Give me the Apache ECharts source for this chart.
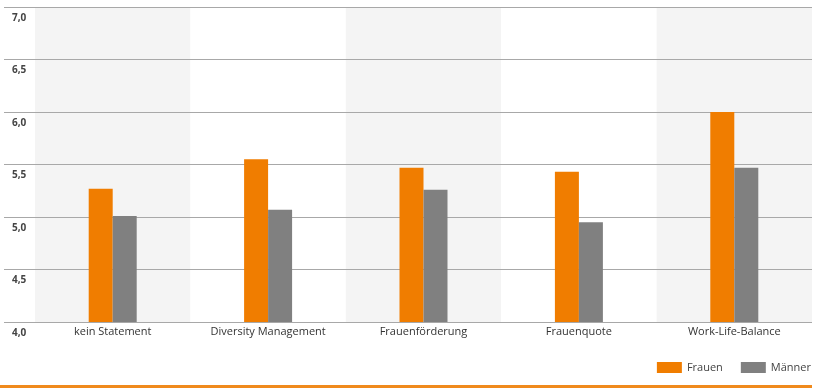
<!DOCTYPE html>
<html><head><meta charset="utf-8">
<script src="https://cdn.jsdelivr.net/npm/echarts@6/dist/echarts.min.js"></script>
<style>html,body{margin:0;padding:0;background:#fff}#c{width:820px;height:390px}</style>
</head><body><div id="c"></div>
<script>
const categories = ['kein Statement', 'Diversity Management', 'Frauenförderung', 'Frauenquote', 'Work-Life-Balance'];
const frauen = [5.27, 5.55, 5.47, 5.43, 6.0];
const maenner = [5.01, 5.07, 5.26, 4.95, 5.47];
const seriesNames = ['Frauen', 'Männer'];
const yTicks = [4.0, 4.5, 5.0, 5.5, 6.0, 6.5, 7.0];

const FONT = '"Open Sans", "Noto Sans", sans-serif';
const chart = echarts.init(document.getElementById('c'), null, {renderer: 'canvas'});
chart.setOption({
  animation: false,
  backgroundColor: '#fff',
  grid: [
    {left: 4, right: 8, top: 7, bottom: 68},
    {left: 35, right: 8, top: 7, bottom: 68}
  ],
  xAxis: [
    {gridIndex: 0, type: 'value', show: false, min: 0, max: 1},
    {gridIndex: 1, type: 'category', data: categories, z: 0,
      axisLine: {show: false}, axisTick: {show: false},
      axisLabel: {margin: 4, fontSize: 11, color: '#333', fontFamily: FONT, interval: 0},
      splitArea: {show: true, interval: 0, areaStyle: {color: ['#f4f4f4', '#ffffff']}}
    }
  ],
  yAxis: [
    {gridIndex: 0, type: 'value', min: yTicks[0], max: yTicks[yTicks.length - 1], interval: 0.5, z: 1,
      axisLine: {show: false}, axisTick: {show: false},
      splitLine: {show: true, lineStyle: {color: '#a8a8a8', width: 1.2}},
      axisLabel: {inside: true, margin: 8, align: 'left', verticalAlign: 'top', padding: [6, 0, 0, 0],
        fontSize: 10, fontWeight: 'bold', color: '#444', fontFamily: FONT,
        formatter: v => v.toFixed(1).replace('.', ',')}
    },
    {gridIndex: 1, type: 'value', min: yTicks[0], max: yTicks[yTicks.length - 1], interval: 0.5, show: false}
  ],
  legend: {
    right: 4, top: 357, itemWidth: 25, itemHeight: 11, itemGap: 18, icon: 'rect',
    textStyle: {fontSize: 11, color: '#444', fontFamily: FONT},
    data: seriesNames
  },
  series: [
    {name: seriesNames[0], type: 'bar', xAxisIndex: 1, yAxisIndex: 1, data: frauen,
      barWidth: 24, barGap: '0%', itemStyle: {color: '#f07d00'}, z: 3},
    {name: seriesNames[1], type: 'bar', xAxisIndex: 1, yAxisIndex: 1, data: maenner,
      barWidth: 24, barGap: '0%', itemStyle: {color: '#808080'}, z: 3}
  ],
  graphic: [
    {type: 'rect', left: 0, top: 385, shape: {width: 812, height: 3}, style: {fill: '#f08a1c'}}
  ]
});
</script>
</body></html>
